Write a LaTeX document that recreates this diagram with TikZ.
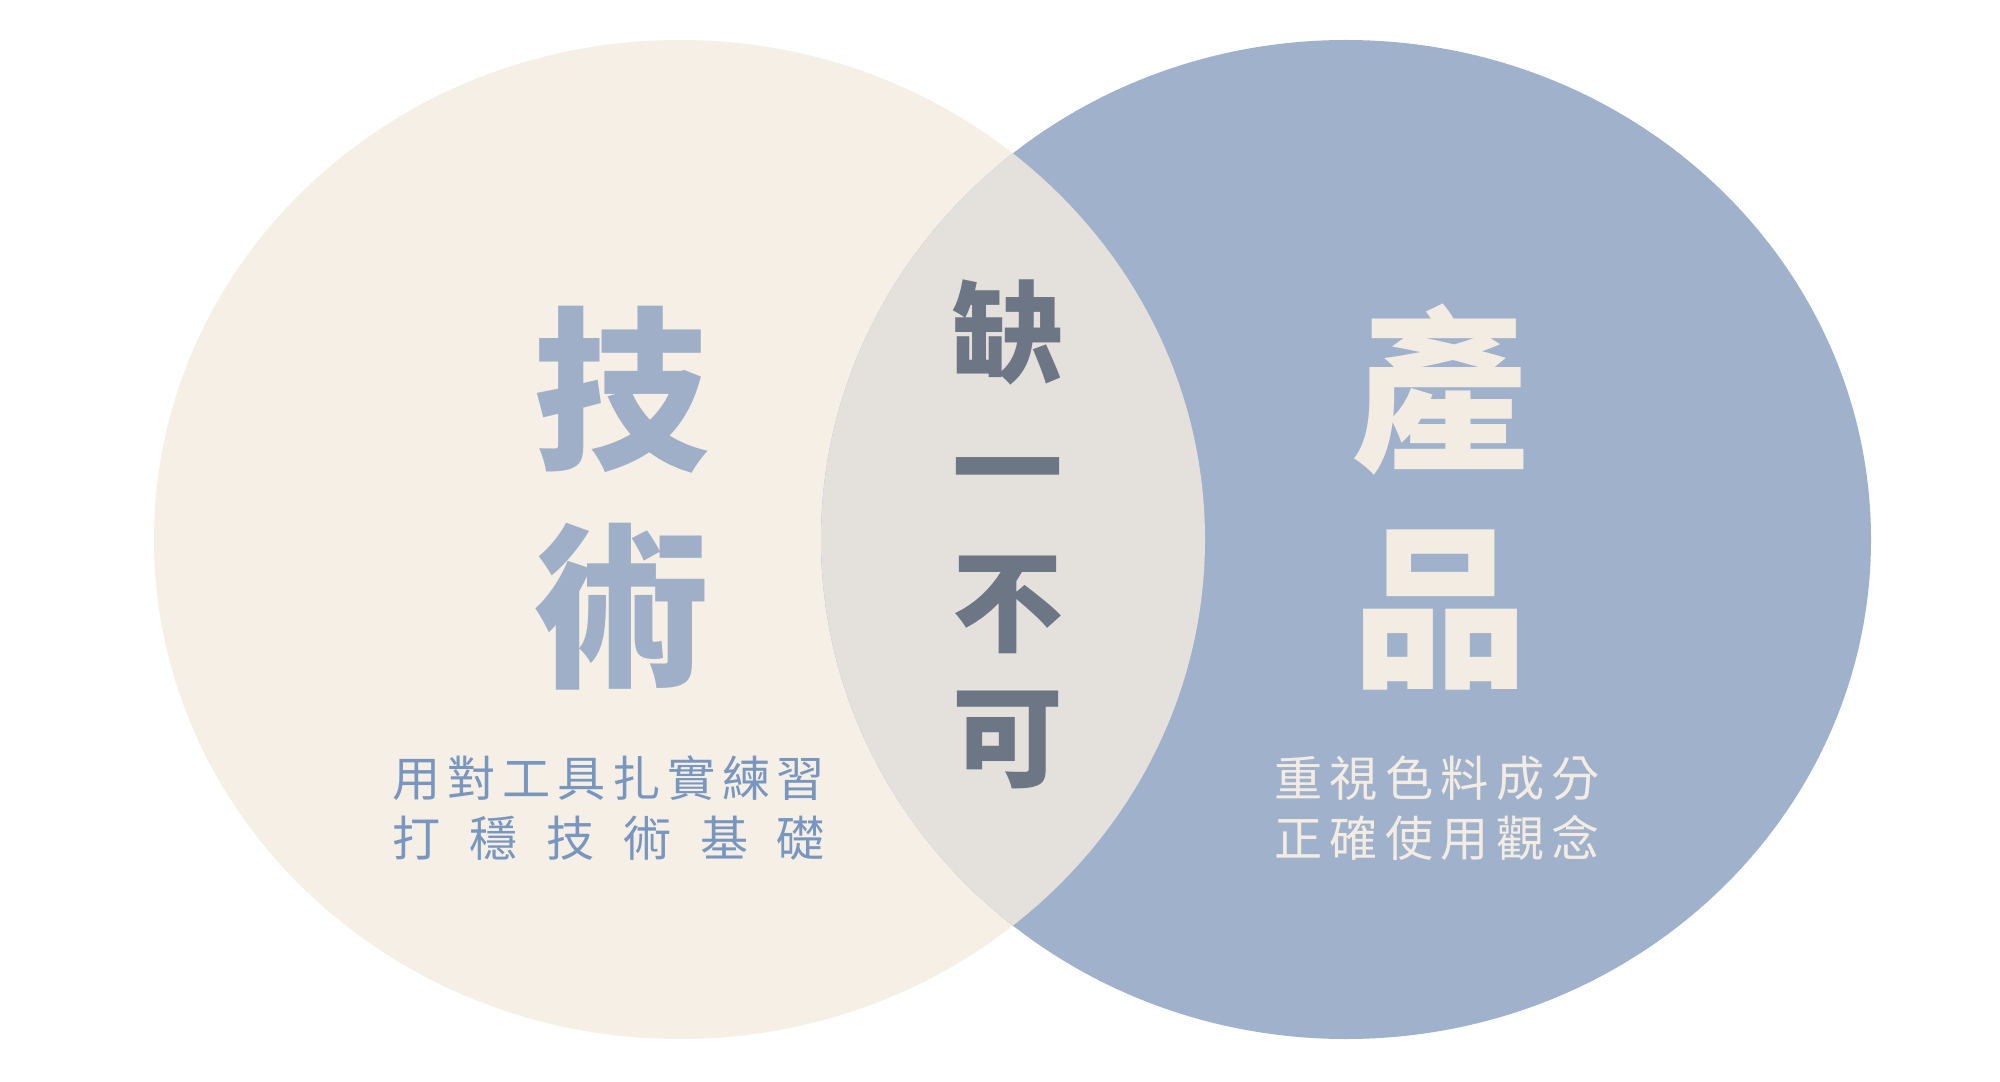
\documentclass[tikz,border=0pt]{standalone}
\usepackage{fontspec}
\newfontfamily\cjk{Noto Sans CJK TC}
\definecolor{cream}{HTML}{F5EFE6}
\definecolor{steel}{HTML}{9FB1CB}
\definecolor{overlap}{HTML}{E4E1DD}
\definecolor{slate}{HTML}{6C7684}
\definecolor{skilltext}{HTML}{9FAFC8}
\definecolor{skillnote}{HTML}{7896BE}
\definecolor{prodtext}{HTML}{F3ECE3}

\begin{document}
\begin{tikzpicture}[x=0.01cm, y=0.01cm,
  bigchar/.style={anchor=base, inner sep=0pt, font=\cjk\bfseries\fontsize{50}{60}\selectfont},
  midchar/.style={anchor=base, inner sep=0pt, text=slate, font=\cjk\bfseries\fontsize{31.5}{36}\selectfont},
  note/.style={anchor=base, inner sep=0pt, font=\cjk\fontsize{13.7}{17}\selectfont}]
  \useasboundingbox (0,0) rectangle (2000,1081);
  \fill[cream] (679.5,541.5) ellipse [x radius=525.5, y radius=499.5];
  \fill[steel] (1346,541.5) ellipse [x radius=525, y radius=499.5];
  \begin{scope}
    \clip (679.5,541.5) ellipse [x radius=525.5, y radius=499.5];
    \fill[overlap] (1346,541.5) ellipse [x radius=525, y radius=499.5];
  \end{scope}
  % big words
  \foreach \c [count=\i] in {技,術} {
    \node [bigchar, text=skilltext] (skill\i) at (621, {624-216.5*(\i-1)}) {\c};
  }
  \foreach \c [count=\i] in {產,品} {
    \node [bigchar, text=prodtext] (prod\i) at (1440, {624-216.5*(\i-1)}) {\c};
  }
  \foreach \c [count=\i] in {缺,一,不,可} {
    \node [midchar] (mid\i) at (1008, {706.5-134.7*(\i-1)}) {\c};
  }
  % notes
  \node [note, text=skillnote] (skillnote1) at (609,285) {\makebox[122.9pt][s]{用\hfill 對\hfill 工\hfill 具\hfill 扎\hfill 實\hfill 練\hfill 習}};
  \node [note, text=skillnote] (skillnote2) at (609,225) {\makebox[122.9pt][s]{打\hfill 穩\hfill 技\hfill 術\hfill 基\hfill 礎}};
  \node [note, text=prodtext] (prodnote1) at (1437,285) {\makebox[92.5pt][s]{重\hfill 視\hfill 色\hfill 料\hfill 成\hfill 分}};
  \node [note, text=prodtext] (prodnote2) at (1437,225) {\makebox[92.5pt][s]{正\hfill 確\hfill 使\hfill 用\hfill 觀\hfill 念}};
\end{tikzpicture}
\end{document}
